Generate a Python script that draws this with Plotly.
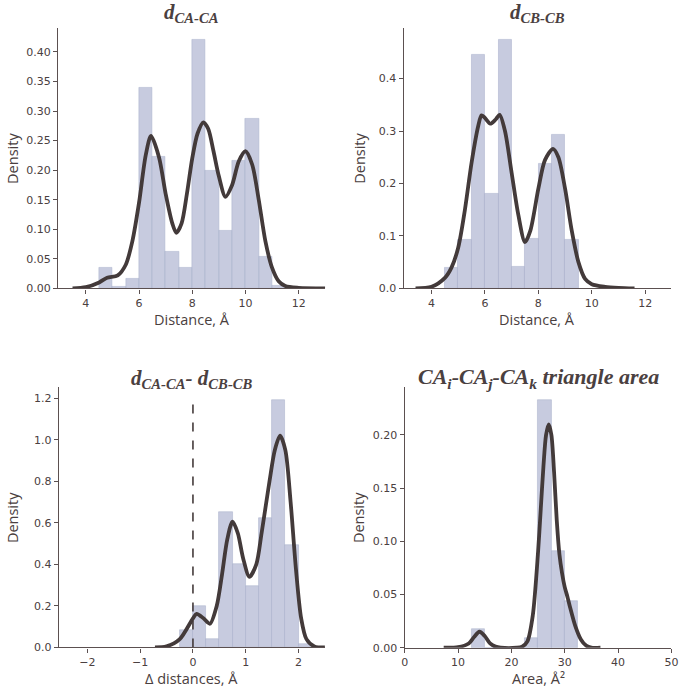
import plotly.graph_objects as go

# ---------------- data ----------------
# Panel 1: d CA-CA
ca_bin_start = 4.5
ca_bin_width = 0.5
ca_hist = [0.035, 0.003, 0.017, 0.340, 0.222, 0.062, 0.035, 0.421, 0.199, 0.098,
           0.216, 0.287, 0.053, 0.004]
ca_kde_x = [3.5, 4.0, 4.5, 4.8, 5.2, 5.5, 5.75, 6.0, 6.25, 6.45, 6.75, 7.0, 7.25, 7.4,
            7.6, 7.8, 8.0, 8.2, 8.42, 8.6, 8.8, 9.0, 9.25, 9.5, 9.75, 10.0, 10.25,
            10.5, 10.75, 11.0, 11.25, 11.5, 12.0, 13.0]
ca_kde_y = [0.0, 0.002, 0.010, 0.018, 0.022, 0.040, 0.080, 0.145, 0.225, 0.258, 0.222,
            0.160, 0.110, 0.094, 0.110, 0.160, 0.220, 0.262, 0.281, 0.270, 0.232, 0.190,
            0.155, 0.175, 0.215, 0.232, 0.210, 0.150, 0.080, 0.035, 0.012, 0.004, 0.001,
            0.0]

# Panel 2: d CB-CB
cb_bin_start = 4.5
cb_bin_width = 0.5
cb_hist = [0.040, 0.092, 0.445, 0.181, 0.475, 0.042, 0.095, 0.238, 0.293, 0.092]
cb_kde_x = [3.4, 4.0, 4.5, 4.75, 5.0, 5.25, 5.5, 5.75, 5.87, 6.0, 6.2, 6.4, 6.55, 6.75,
            7.0, 7.25, 7.5, 7.7, 8.0, 8.25, 8.55, 8.75, 9.0, 9.25, 9.5, 9.75, 10.0,
            10.5, 11.0, 11.6]
cb_kde_y = [0.0, 0.003, 0.020, 0.040, 0.078, 0.150, 0.240, 0.310, 0.330, 0.325, 0.314,
            0.322, 0.331, 0.300, 0.220, 0.140, 0.088, 0.110, 0.190, 0.245, 0.266, 0.250,
            0.190, 0.110, 0.050, 0.018, 0.008, 0.003, 0.001, 0.0]

# Panel 3: d CA-CA - d CB-CB
dd_bin_start = -0.25
dd_bin_width = 0.25
dd_hist = [0.082, 0.199, 0.040, 0.650, 0.400, 0.296, 0.621, 1.190, 0.493, 0.016]
dd_kde_x = [-0.72, -0.5, -0.25, 0.0, 0.07, 0.2, 0.32, 0.45, 0.55, 0.65, 0.75, 0.85,
            0.95, 1.07, 1.2, 1.3, 1.45, 1.55, 1.65, 1.75, 1.85, 1.95, 2.05, 2.15, 2.3,
            2.5]
dd_kde_y = [0.0, 0.005, 0.040, 0.140, 0.162, 0.140, 0.114, 0.200, 0.350, 0.520, 0.606,
            0.550, 0.430, 0.340, 0.400, 0.550, 0.800, 0.950, 1.020, 0.950, 0.700, 0.380,
            0.140, 0.040, 0.005, 0.0]
dd_zero_line = [0.0, 1.2]

# Panel 4: triangle area
ar_bin_start = 12.5
ar_bin_width = 2.5
ar_hist = [0.0177, 0.0, 0.0, 0.0, 0.009, 0.233, 0.0909, 0.0443]
ar_kde_x = [7.3, 10.0, 12.0, 13.0, 14.0, 15.0, 16.0, 17.0, 18.0, 21.0, 22.0, 23.0, 24.0,
            25.0, 25.5, 26.0, 26.5, 27.0, 27.5, 28.0, 28.5, 29.0, 29.5, 30.0, 30.5, 31.0,
            32.0, 33.0, 34.0, 35.0, 36.7]
ar_kde_y = [0.0, 0.0005, 0.004, 0.010, 0.015, 0.011, 0.004, 0.001, 0.0, 0.0, 0.001,
            0.006, 0.030, 0.090, 0.130, 0.170, 0.200, 0.210, 0.200, 0.165, 0.120, 0.088,
            0.070, 0.057, 0.048, 0.038, 0.020, 0.008, 0.002, 0.0, 0.0]

titles = ["<b><i>d<sub>CA-CA</sub></i></b>",
          "<b><i>d<sub>CB-CB</sub></i></b>",
          "<b><i>d<sub>CA-CA</sub>- d<sub>CB-CB</sub></i></b>",
          "<b><i>CA<sub>i</sub>-CA<sub>j</sub>-CA<sub>k</sub> triangle area</i></b>"]
xlabels = ["Distance, Å", "Distance, Å", "Δ distances, Å", "Area, Å²"]

# ---------------- style ----------------
W, H = 685, 695
BAR = "rgba(183,189,214,0.78)"
BAR_EDGE = "rgba(170,176,202,0.9)"
LINE = "#433a3a"
AX = "#5b5050"
TXT = "#4a4040"

fig = go.Figure()

panels = [
    dict(start=ca_bin_start, w=ca_bin_width, h=ca_hist, kx=ca_kde_x, ky=ca_kde_y,
         xd=[56 / W, 327 / W], yd=[1 - 291.3 / H, 1 - 28 / H],
         xr=[2.96, 13.0], yr=[0, 0.441], xt=[4, 6, 8, 10, 12],
         yt=[0, 0.05, 0.10, 0.15, 0.20, 0.25, 0.30, 0.35, 0.40], yf=".2f"),
    dict(start=cb_bin_start, w=cb_bin_width, h=cb_hist, kx=cb_kde_x, ky=cb_kde_y,
         xd=[406.7 / W, 678 / W], yd=[1 - 291.3 / H, 1 - 28 / H],
         xr=[2.96, 12.97], yr=[0, 0.497], xt=[4, 6, 8, 10, 12],
         yt=[0, 0.1, 0.2, 0.3, 0.4], yf=".1f"),
    dict(start=dd_bin_start, w=dd_bin_width, h=dd_hist, kx=dd_kde_x, ky=dd_kde_y,
         xd=[56.7 / W, 326.7 / W], yd=[1 - 654 / H, 1 - 391 / H],
         xr=[-2.54, 2.5], yr=[0, 1.254], xt=[-2, -1, 0, 1, 2],
         yt=[0, 0.2, 0.4, 0.6, 0.8, 1.0, 1.2], yf=".1f"),
    dict(start=ar_bin_start, w=ar_bin_width, h=ar_hist, kx=ar_kde_x, ky=ar_kde_y,
         xd=[407.7 / W, 678.3 / W], yd=[1 - 654.3 / H, 1 - 391 / H],
         xr=[0, 50], yr=[0, 0.245], xt=[0, 10, 20, 30, 40, 50],
         yt=[0, 0.05, 0.10, 0.15, 0.20], yf=".2f"),
]

layout_axes = {}
annotations = []
title_y = [1 - 13 / H, 1 - 13 / H, 1 - 383 / H, 1 - 382 / H]
title_size = [21, 21, 21, 22]
xlab_y = [1 - 323 / H, 1 - 323 / H, 1 - 685.5 / H, 1 - 685.5 / H]
ylab_x = [9 / W, 361 / W, 9 / W, 361 / W]

for i, p in enumerate(panels):
    n = i + 1
    xa = "x" if n == 1 else f"x{n}"
    ya = "y" if n == 1 else f"y{n}"
    centers = [p["start"] + p["w"] * (k + 0.5) for k in range(len(p["h"]))]
    fig.add_trace(go.Bar(x=centers, y=p["h"], width=p["w"], xaxis=xa, yaxis=ya,
                         marker=dict(color=BAR, line=dict(color=BAR_EDGE, width=0.6)),
                         showlegend=False, hoverinfo="skip"))
    fig.add_trace(go.Scatter(x=p["kx"], y=p["ky"], mode="lines", xaxis=xa, yaxis=ya,
                             line=dict(color=LINE, width=3.8, shape="spline", smoothing=0.8),
                             showlegend=False))
    axcommon = dict(showline=True, linecolor=AX, linewidth=1.4, ticks="outside",
                    ticklen=4, tickwidth=1.2, tickcolor=AX, showgrid=False, zeroline=False,
                    ticklabeloverflow="allow",
                    tickfont=dict(family="DejaVu Sans", size=11, color=TXT))
    layout_axes["xaxis" if n == 1 else f"xaxis{n}"] = dict(
        domain=p["xd"], range=p["xr"], tickvals=p["xt"], anchor=ya, **axcommon)
    layout_axes["yaxis" if n == 1 else f"yaxis{n}"] = dict(
        domain=p["yd"], range=p["yr"], tickvals=p["yt"], tickformat=p["yf"], anchor=xa,
        **axcommon)
    xc = (p["xd"][0] + p["xd"][1]) / 2
    annotations.append(dict(text=titles[i], x=xc, y=title_y[i], xref="paper", yref="paper",
                            showarrow=False, xanchor="center", yanchor="middle",
                            font=dict(family="Liberation Serif", size=title_size[i],
                                      color=TXT)))
    annotations.append(dict(text=xlabels[i], x=xc, y=xlab_y[i], xref="paper", yref="paper",
                            showarrow=False, xanchor="center", yanchor="middle",
                            font=dict(family="Open Sans", size=14.5, color=TXT)))
    annotations.append(dict(text="Density", x=ylab_x[i], y=(p["yd"][0] + p["yd"][1]) / 2,
                            xref="paper", yref="paper", showarrow=False, textangle=-90,
                            xanchor="center", yanchor="middle",
                            font=dict(family="Open Sans", size=14.5, color=TXT)))

# dashed zero line in panel 3
fig.add_trace(go.Scatter(x=[0, 0], y=dd_zero_line, mode="lines", xaxis="x3", yaxis="y3",
                         line=dict(color=LINE, width=1.6, dash="dash"), showlegend=False))

fig.update_layout(width=W, height=H, margin=dict(l=0, r=0, t=0, b=0),
                  paper_bgcolor="white", plot_bgcolor="white", bargap=0,
                  annotations=annotations, **layout_axes)

page_fix = (
    "document.documentElement.style.margin='0px';"
    "document.documentElement.style.overflow='hidden';"
    "document.body.style.margin='0px';"
    "document.body.style.padding='0px';"
    "document.body.style.overflow='hidden';"
    "var gd=document.getElementsByClassName('plotly-graph-div')[0];"
    "gd.style.position='fixed';gd.style.left='0px';gd.style.top='0px';"
)

fig.write_html("out.html", config={"displayModeBar": False}, post_script=page_fix)
